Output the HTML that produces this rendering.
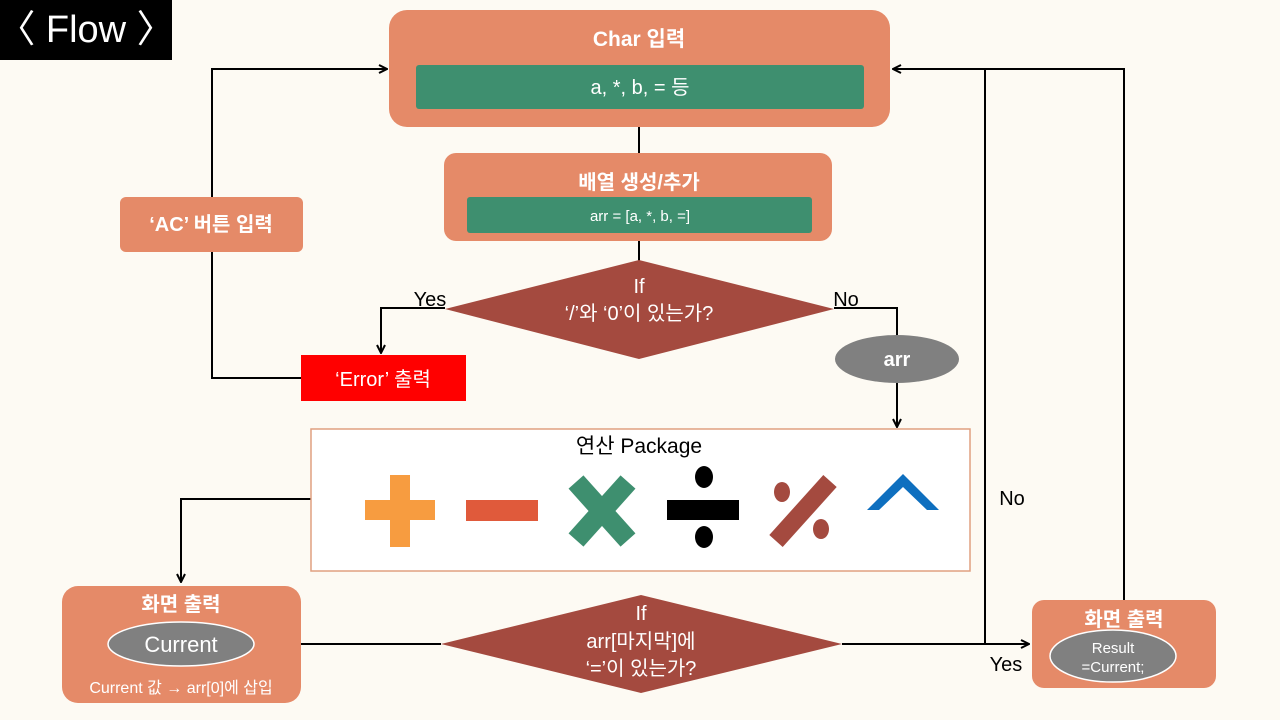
<!DOCTYPE html>
<html><head><meta charset="utf-8"><style>
body{margin:0;background:#fdfaf3;}
svg{display:block;font-family:"Liberation Sans","Noto Sans CJK KR",sans-serif;}
</style></head><body>
<svg width="1280" height="720" viewBox="0 0 1280 720">
<defs><marker id="a" markerWidth="10" markerHeight="10" refX="9" refY="5" orient="auto" markerUnits="userSpaceOnUse"><path d="M1,1 L9,5 L1,9" fill="none" stroke="#000" stroke-width="2"/></marker></defs>
<rect width="1280" height="720" fill="#fdfaf3"/>
<rect x="0" y="0" width="172" height="60" fill="#000"/>
<text x="86" y="42" fill="#fff" font-size="38" text-anchor="middle">〈 Flow 〉</text>
<g stroke="#000" stroke-width="2" fill="none">
<line x1="639" y1="127" x2="639" y2="153"/>
<line x1="639" y1="241" x2="639" y2="262"/>
<polyline points="445,308 381,308 381,353" marker-end="url(#a)"/>
<polyline points="834,308 897,308 897,336"/>
<polyline points="897,383 897,427" marker-end="url(#a)"/>
<polyline points="301,378 212,378 212,69 387,69" marker-end="url(#a)"/>
<polyline points="311,499 181,499 181,582" marker-end="url(#a)"/>
<line x1="301" y1="644" x2="441" y2="644"/>
<polyline points="842,644 1029,644" marker-end="url(#a)"/>
<polyline points="1124,600 1124,69 893,69" marker-end="url(#a)"/>
<line x1="985" y1="69" x2="985" y2="644"/>
</g>
<rect x="389" y="10" width="501" height="117" rx="18" fill="#e58a68"/>
<text x="639" y="46" fill="#fff" font-size="21" font-weight="bold" text-anchor="middle">Char 입력</text>
<rect x="416" y="65" width="448" height="44" rx="3" fill="#3e8f6f"/>
<text x="640" y="94" fill="#fff" font-size="20" text-anchor="middle">a, *, b, = 등</text>
<rect x="444" y="153" width="388" height="88" rx="12" fill="#e58a68"/>
<text x="639" y="189" fill="#fff" font-size="20" font-weight="bold" text-anchor="middle">배열 생성/추가</text>
<rect x="467" y="197" width="345" height="36" rx="3" fill="#3e8f6f"/>
<text x="640" y="221" fill="#fff" font-size="15" text-anchor="middle">arr = [a, *, b, =]</text>
<polygon points="445,309 639,260 834,309 639,359" fill="#a44a3f"/>
<text x="639" y="293" fill="#fff" font-size="20" text-anchor="middle">If</text>
<text x="639" y="320" fill="#fff" font-size="20" text-anchor="middle">‘/’와 ‘0’이 있는가?</text>
<text x="430" y="306" font-size="20" text-anchor="middle">Yes</text>
<text x="846" y="306" font-size="20" text-anchor="middle">No</text>
<ellipse cx="897" cy="359" rx="62" ry="24" fill="#808080"/>
<text x="897" y="366" fill="#fff" font-size="20" font-weight="bold" text-anchor="middle">arr</text>
<rect x="301" y="355" width="165" height="46" fill="#ff0000"/>
<text x="383" y="386" fill="#fff" font-size="20" text-anchor="middle">‘Error’ 출력</text>
<rect x="120" y="197" width="183" height="55" rx="6" fill="#e58a68"/>
<text x="211" y="231" fill="#fff" font-size="20" font-weight="bold" text-anchor="middle">‘AC’ 버튼 입력</text>
<rect x="311" y="429" width="659" height="142" fill="#fff" stroke="#e0a080" stroke-width="1.5"/>
<text x="639" y="453" font-size="21" text-anchor="middle">연산 Package</text>
<rect x="390" y="475" width="20" height="72" fill="#f79c40"/>
<rect x="365" y="500" width="70" height="20" fill="#f79c40"/>
<rect x="466" y="500" width="72" height="21" fill="#e05a3b"/>
<g stroke="#3e8f6f" stroke-width="20"><line x1="576" y1="482" x2="628" y2="540"/><line x1="628" y1="482" x2="576" y2="540"/></g>
<rect x="667" y="500" width="72" height="20" fill="#000"/>
<ellipse cx="704" cy="477" rx="9" ry="11" fill="#000"/><ellipse cx="704" cy="537" rx="9" ry="11" fill="#000"/>
<line x1="776" y1="541" x2="830" y2="481" stroke="#a44a3f" stroke-width="18"/>
<ellipse cx="782" cy="492" rx="8" ry="10" fill="#a44a3f"/><ellipse cx="821" cy="529" rx="8" ry="10" fill="#a44a3f"/>
<polygon points="867,510 903,474 939,510 927,510 903,487 879,510" fill="#0e6fbf"/>
<rect x="62" y="586" width="239" height="117" rx="16" fill="#e58a68"/>
<text x="181" y="611" fill="#fff" font-size="20" font-weight="bold" text-anchor="middle">화면 출력</text>
<ellipse cx="181" cy="644" rx="73" ry="22" fill="#808080" stroke="#fff" stroke-width="1.5"/>
<text x="181" y="652" fill="#fff" font-size="22" text-anchor="middle">Current</text>
<text x="181" y="693" fill="#fff" font-size="16" text-anchor="middle">Current 값 → arr[0]에 삽입</text>
<polygon points="441,644 641,595 842,644 641,693" fill="#a44a3f"/>
<text x="641" y="620" fill="#fff" font-size="20" text-anchor="middle">If</text>
<text x="641" y="648" fill="#fff" font-size="20" text-anchor="middle">arr[마지막]에</text>
<text x="641" y="675" fill="#fff" font-size="20" text-anchor="middle">‘=’이 있는가?</text>
<text x="1006" y="671" font-size="20" text-anchor="middle">Yes</text>
<text x="1012" y="505" font-size="20" text-anchor="middle">No</text>
<rect x="1032" y="600" width="184" height="88" rx="12" fill="#e58a68"/>
<text x="1124" y="626" fill="#fff" font-size="20" font-weight="bold" text-anchor="middle">화면 출력</text>
<ellipse cx="1113" cy="656" rx="63" ry="26" fill="#808080" stroke="#fff" stroke-width="1.5"/>
<text x="1113" y="653" fill="#fff" font-size="15" text-anchor="middle">Result</text>
<text x="1113" y="672" fill="#fff" font-size="15" text-anchor="middle">=Current;</text>
</svg>
</body></html>
